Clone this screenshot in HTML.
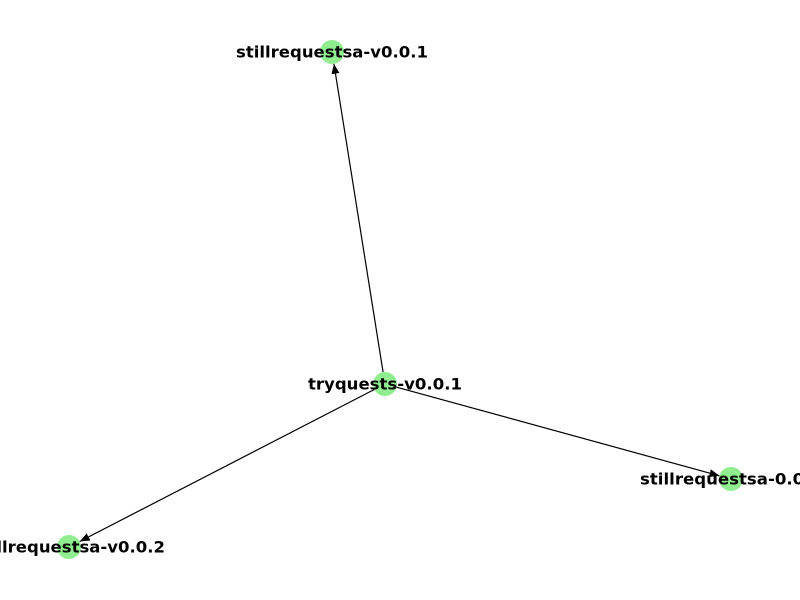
<!DOCTYPE html>
<html><head><meta charset="utf-8"><style>html,body{margin:0;padding:0;background:#fff;}svg{display:block}</style></head>
<body>
<svg width="800" height="600" viewBox="0 0 800 600" xmlns="http://www.w3.org/2000/svg">
<defs>
<marker id="a" markerWidth="10" markerHeight="8" refX="10" refY="4" orient="auto" markerUnits="userSpaceOnUse">
<path d="M0,0 L10,4 L0,8 z" fill="#000"/>
</marker>
</defs>
<g stroke="#000" stroke-width="1.2" fill="none">
<line x1="383.1" y1="372.2" x2="333.9" y2="63.8" marker-end="url(#a)"/>
<line x1="396.6" y1="387.2" x2="719.4" y2="475.8" marker-end="url(#a)"/>
<line x1="374.3" y1="389.5" x2="79.7" y2="541.5" marker-end="url(#a)"/>
</g>
<g fill="#90ee90">
<circle cx="332" cy="52" r="12"/>
<circle cx="385" cy="384" r="12"/>
<circle cx="731" cy="479" r="12"/>
<circle cx="69" cy="547" r="12"/>
</g>
<g font-family="'DejaVu Sans','Liberation Sans',sans-serif" font-weight="bold" font-size="16" text-anchor="middle" dominant-baseline="central" fill="#000">
<text x="332" y="52" textLength="192" lengthAdjust="spacingAndGlyphs">stillrequestsa-v0.0.1</text>
<text x="385" y="384" textLength="154" lengthAdjust="spacingAndGlyphs">tryquests-v0.0.1</text>
<text x="731" y="479" textLength="182" lengthAdjust="spacingAndGlyphs">stillrequestsa-0.0.1</text>
<text x="69" y="547" textLength="192" lengthAdjust="spacingAndGlyphs">stillrequestsa-v0.0.2</text>
</g>
</svg>
</body></html>
